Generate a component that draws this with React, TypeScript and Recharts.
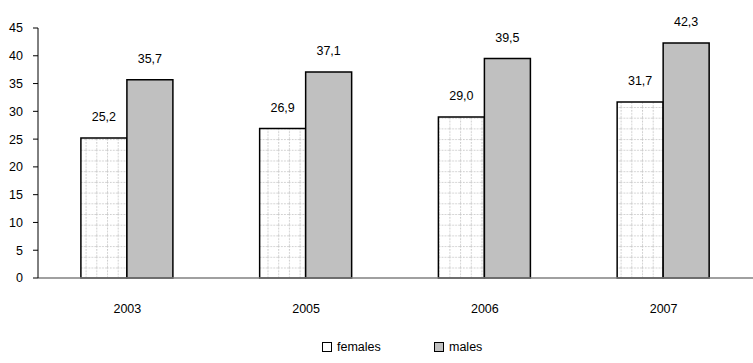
import React from 'react';
import { BarChart, Bar, XAxis, YAxis, LabelList } from 'recharts';

const years = ['2003', '2005', '2006', '2007'];
const females = [25.2, 26.9, 29.0, 31.7];
const males = [35.7, 37.1, 39.5, 42.3];
const yTicks = [0, 5, 10, 15, 20, 25, 30, 35, 40, 45];

const data = years.map((year, i) => ({ year, females: females[i], males: males[i] }));

const font = 'Liberation Sans, Arial, sans-serif';
const fmt = (v: number) => v.toFixed(1).replace('.', ',');
const textStyle = { fontSize: 12.5, fill: '#000', fontFamily: font };

const LegendItem = ({ fill, label, left }: { fill: string; label: string; left: number }) => (
  <div style={{ position: 'absolute', left, top: 0, display: 'flex', alignItems: 'center', fontFamily: font, fontSize: 12.5, color: '#000' }}>
    <svg width={10} height={10} style={{ marginRight: 5 }}>
      <rect x={0.5} y={0.5} width={9} height={9} fill={fill} stroke="#000" strokeWidth={1} />
    </svg>
    {label}
  </div>
);

export default function App() {
  return (
    <div style={{ position: 'absolute', left: 0, top: 0, width: 753, height: 363, background: '#fff' }}>
      <BarChart
        width={753}
        height={363}
        data={data}
        margin={{ top: 28, right: 0, left: 0, bottom: 35 }}
        barCategoryGap="24%"
        barGap={0}
      >
        <defs>
          <pattern id="grid" width={10.7} height={10.7} patternUnits="userSpaceOnUse">
            <rect width={10.7} height={10.7} fill="#fff" />
            <path d="M 0 0.5 H 10.7 M 0.5 0 V 10.7" stroke="#c8c8c8" strokeWidth={1} strokeDasharray="1.5 1.5" />
          </pattern>
        </defs>
        <XAxis
          dataKey="year"
          axisLine={{ stroke: '#808080', strokeWidth: 1.5 }}
          tickLine={false}
          tick={textStyle}
          tickMargin={20}
          height={50}
        />
        <YAxis
          domain={[0, 45]}
          ticks={yTicks}
          interval={0}
          width={38}
          axisLine={{ stroke: '#000' }}
          tickLine={{ stroke: '#000' }}
          tickSize={5}
          tick={textStyle}
          tickMargin={10}
        />
        <Bar dataKey="females" fill="url(#grid)" stroke="#000" strokeWidth={1.5} isAnimationActive={false}>
          <LabelList dataKey="females" position="top" offset={17} formatter={(v: any) => fmt(Number(v))} style={textStyle} />
        </Bar>
        <Bar dataKey="males" fill="#c0c0c0" stroke="#000" strokeWidth={1.5} isAnimationActive={false}>
          <LabelList dataKey="males" position="top" offset={17} formatter={(v: any) => fmt(Number(v))} style={textStyle} />
        </Bar>
      </BarChart>
      {/* legend row under the plot */}
      <div style={{ position: 'absolute', left: 0, top: 340, width: 753, height: 16 }}>
        <LegendItem fill="url(#grid)" label="females" left={322} />
        <LegendItem fill="#c0c0c0" label="males" left={434} />
      </div>
    </div>
  );
}
